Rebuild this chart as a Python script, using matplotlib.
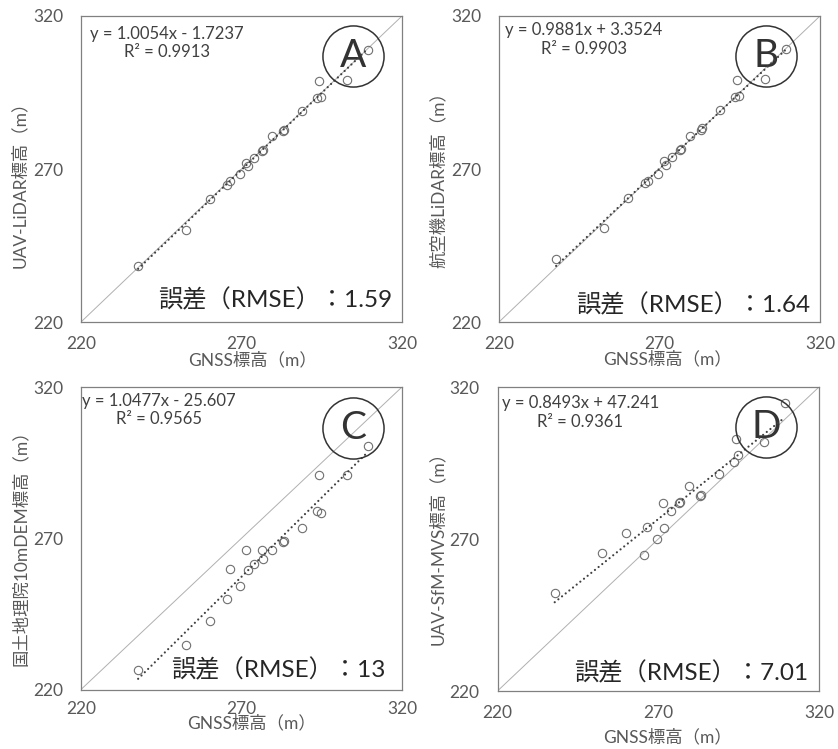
import matplotlib
matplotlib.use('Agg')
import matplotlib.pyplot as plt
import numpy as np

plt.rcParams['font.family'] = ['Lato', 'Noto Sans CJK JP', 'DejaVu Sans']

# GNSS elevation (x) shared by all four panels
gnss = [237.8, 252.6, 260.1, 265.5, 266.5, 269.6, 271.5, 271.9, 274.0, 276.5,
        276.8, 279.6, 282.9, 283.3, 288.8, 293.5, 294.8, 294.2, 302.9, 309.3]
uav_lidar = [238.2, 250.1, 260.2, 264.9, 266.1, 268.3, 272.1, 271.0, 273.5, 275.9,
             276.1, 280.8, 282.4, 282.9, 288.8, 293.2, 293.5, 298.8, 299.0, 308.8]
air_lidar = [240.6, 250.8, 260.6, 265.3, 266.0, 268.3, 272.6, 271.3, 274.0, 276.1,
             276.4, 280.8, 282.9, 283.3, 289.2, 293.5, 293.9, 299.0, 299.3, 309.3]
gsi_dem10 = [226.6, 234.6, 242.8, 250.0, 259.8, 254.3, 266.1, 259.5, 261.4, 266.0,
             263.2, 266.1, 268.9, 269.1, 273.3, 279.1, 278.5, 290.8, 291.0, 300.4]
uav_sfm = [252.1, 265.5, 272.0, 264.9, 274.0, 270.1, 281.7, 273.7, 279.1, 282.0,
           282.2, 287.5, 284.1, 284.4, 291.3, 295.4, 297.5, 303.0, 301.9, 314.7]

series = [uav_lidar, air_lidar, gsi_dem10, uav_sfm]
letters = ['A', 'B', 'C', 'D']
ylabels = ['UAV-LiDAR標高（m）', '航空機LiDAR標高（m）',
           '国土地理院10mDEM標高（m）', 'UAV-SfM-MVS標高（m）']
slopes = [1.0054, 0.9881, 1.0477, 0.8493]
intercepts = [-1.7237, 3.3524, -25.607, 47.241]
r2 = ['0.9913', '0.9903', '0.9565', '0.9361']
rmse = ['1.59', '1.64', '13', '7.01']
ticks = [220, 270, 320]

W, H = 838, 749
# axes boxes in pixels: left, top, right, bottom
boxes = [(81, 16, 402, 322), (499, 16, 820, 322),
         (81, 387, 402, 689.5), (497.5, 387, 819, 691)]
eq_pos = [(0.268, 0.912), (0.265, 0.923), (0.243, 0.924), (0.257, 0.916)]
rmse_pos = [(0.969, 0.072), (0.969, 0.056), (0.947, 0.065), (0.966, 0.059)]
circ_pos = [(0.846, 0.869), (0.833, 0.869), (0.847, 0.866), (0.835, 0.868)]
ylab_pos = [(-0.19, 0.464), (-0.19, 0.477), (-0.19, 0.482), (-0.185, 0.484)]
xlab_pos = [(0.533, -0.123), (0.526, -0.12), (0.53, -0.112), (0.53, -0.151)]
xpad = [10, 10, 8, 10]

fig = plt.figure(figsize=(W / 100, H / 100), dpi=100)

for i in range(4):
    l, t, r, b = boxes[i]
    ax = fig.add_axes([l / W, 1 - b / H, (r - l) / W, (b - t) / H])
    ax.set_xlim(220, 320)
    ax.set_ylim(220, 320)
    ax.set_xticks(ticks)
    ax.set_yticks(ticks)
    ax.tick_params(length=0, labelsize=12.5, labelcolor='#595959')
    ax.tick_params(axis='x', pad=xpad[i])
    ax.tick_params(axis='y', pad=13)
    for s in ax.spines.values():
        s.set_color('#808080')
        s.set_linewidth(0.9)

    # 1:1 line
    ax.plot(ticks, ticks, color='#b0b0b0', lw=0.7, zorder=1)

    # data points
    ax.plot(gnss, series[i], 'o', ms=6, mfc='none', mec='#707070', mew=0.8, zorder=3)

    # linear trend line
    xs = np.array([min(gnss), max(gnss)])
    ax.plot(xs, slopes[i] * xs + intercepts[i], color='#404040', lw=1.6,
            ls=(0, (0.01, 2.1)), dash_capstyle='round', zorder=4)

    sign = '+' if intercepts[i] >= 0 else '-'
    eq = f'y = {slopes[i]:.4f}x {sign} {abs(intercepts[i])}\nR² = {r2[i]}'
    ax.text(eq_pos[i][0], eq_pos[i][1], eq, transform=ax.transAxes, ha='center',
            va='center', multialignment='center', fontsize=12, color='#404040',
            linespacing=1.2)

    ax.text(rmse_pos[i][0], rmse_pos[i][1], f'誤差（RMSE）：{rmse[i]}',
            transform=ax.transAxes, ha='right', va='center', fontsize=17.5,
            color='#262626')

    cx, cy = circ_pos[i]
    ax.plot([cx], [cy], 'o', ms=44, mfc='none', mec='#333333', mew=1.1,
            transform=ax.transAxes, clip_on=False, zorder=5)
    ax.text(cx, cy, letters[i], transform=ax.transAxes, ha='center', va='center',
            fontsize=28, color='#333333')

    ax.set_ylabel(ylabels[i], fontsize=12.5, color='#595959')
    ax.yaxis.set_label_coords(*ylab_pos[i])
    ax.yaxis.label.set_va('center')
    ax.set_xlabel('GNSS標高（m）', fontsize=12.5, color='#595959')
    ax.xaxis.set_label_coords(*xlab_pos[i])
    ax.xaxis.label.set_va('center')

fig.savefig('out.png', dpi=100)
